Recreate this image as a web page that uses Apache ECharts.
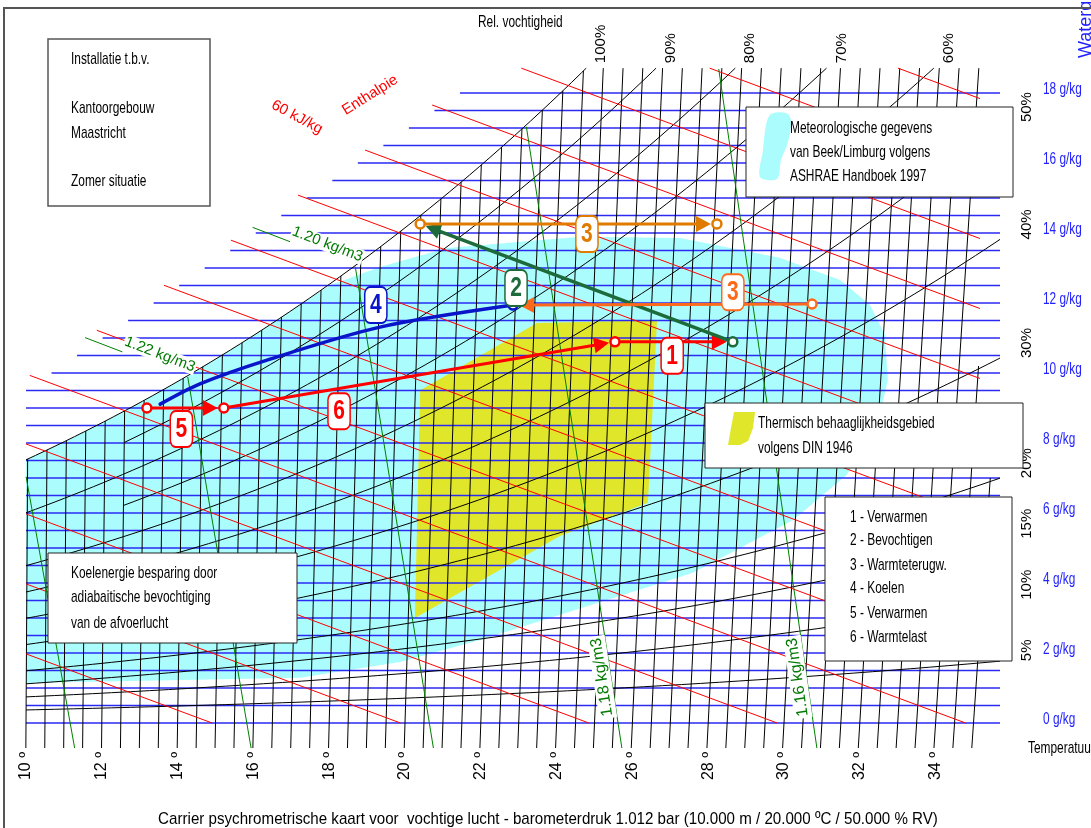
<!DOCTYPE html>
<html lang="nl">
<head>
<meta charset="utf-8">
<title>Carrier psychrometrische kaart</title>
<script src="https://cdn.jsdelivr.net/npm/echarts@6.0.0/dist/echarts.min.js"></script>
<style>
  html, body { margin: 0; padding: 0; background: #fff; }
  #chart { width: 1091px; height: 828px; }
</style>
</head>
<body>
<div id="chart"></div>
<script>
const FONT = '"Liberation Sans", Arial, Helvetica, sans-serif';

// ---- axis ranges: horizontal = skewed dry-bulb temperature (°C), vertical = water content (g/kg)
const T_MIN = 10, T_MAX = 36;
const X_MIN = -5 / 7, X_MAX = 19;
const X_TOP = 18.71;      // upper edge of the grid
const U_RIGHT = 35.70;    // right end of the RH and water-content lines
const U_RED_END = 35.17;  // right end of the enthalpy lines

// ---- tick values
const tempTicks = [10, 12, 14, 16, 18, 20, 22, 24, 26, 28, 30, 32, 34];
const waterTicks = [0, 2, 4, 6, 8, 10, 12, 14, 16, 18];

// ---- grid line families
const isotherms = [10, 10.5, 11, 11.5, 12, 12.5, 13, 13.5, 14, 14.5, 15, 15.5, 16, 16.5, 17, 17.5,
  18, 18.5, 19, 19.5, 20, 20.5, 21, 21.5, 22, 22.5, 23, 23.5, 24, 24.5, 25, 25.5, 26, 26.5, 27, 27.5,
  28, 28.5, 29, 29.5, 30, 30.5, 31, 31.5, 32, 32.5, 33, 33.5, 34, 34.5, 35];
const isothermCap = { 34.5: 10.2, 35: 7.0 };
const waterLines = [0, 0.5, 1, 1.5, 2, 2.5, 3, 3.5, 4, 4.5, 5, 5.5, 6, 6.5, 7, 7.5, 8, 8.5, 9, 9.5,
  10, 10.5, 11, 11.5, 12, 12.5, 13, 13.5, 14, 14.5, 15, 15.5, 16, 16.5, 17, 17.5, 18];
const rhLevels = [100, 90, 80, 70, 60, 50, 40, 30, 20, 15, 10, 5];
const rhStartT = { 90: 12.5, 70: 12.5 };
const enthalpyLines = [15, 20, 25, 30, 35, 40, 45, 50, 55, 60, 65, 70, 75, 80];
const densityLines = [1.24, 1.22, 1.20, 1.18, 1.16];
const densityLeaderLabels = [1.22, 1.20];
const densityAlongLabels = [1.18, 1.16];
const DENSITY_LABEL_X = 1.31;

// start edges of the water-content and enthalpy lines, [u, x]
const blueStartEdge = [[10.0, 9.5], [21.45, 18.0]];
const redStartEdge = [[10.11, 9.94], [22.48, 18.94]];

// ---- chart model
const P_CHART = 1023.5;            // hPa, pressure used for the RH curves
const P_AIR = 101200;              // Pa, 1.012 bar, for the density lines
const SKEW_K = 0.0023, SKEW_T0 = 7.5;

function psat(t) { return 6.112 * Math.exp(17.62 * t / (243.12 + t)); }
function xAt(t, phi) { const pv = phi * psat(t); return 622 * pv / (P_CHART - pv); }
function uAt(t, x) { return t + SKEW_K * (t - SKEW_T0) * x; }
function densityT(rho, x) { const r = x / 1000; return P_AIR * (1 + r) / (287.05 * rho * (1 + 1.608 * r)) - 273.15; }

// ---- climate envelope (Beek/Limburg, ASHRAE 1997) and comfort zone (DIN 1946), [u, x]
const climateEnvelope = [[18.02, 12.51], [19.34, 13.03], [21.11, 13.57], [24.62, 13.89], [27.26, 13.86],
  [29.89, 13.29], [31.48, 12.66], [32.27, 11.94], [32.66, 11.09], [32.74, 9.80], [32.59, 9.09],
  [32.01, 7.80], [31.66, 7.09], [30.24, 5.80], [27.60, 4.29], [24.09, 3.09], [21.98, 2.37],
  [19.87, 1.74], [17.23, 1.29], [10.0, 1.14]];
const CLIMATE_SAT_END = 17.0;
const comfortZone = [[20.40, 9.51], [23.48, 11.43], [26.65, 11.51], [26.41, 6.29], [24.09, 5.34], [20.26, 3.0]];

// ---- air-handling processes, [u, x]
const processPaths = [
  { color: '#ff0000', width: 3, arrow: true, pts: [[13.19, 9.00], [15.22, 9.00]] },
  { color: '#ff0000', width: 3, arrow: true, pts: [[15.22, 9.00], [25.54, 10.89]] },
  { color: '#ff0000', width: 3, arrow: true, pts: [[25.54, 10.89], [28.65, 10.89]] },
  { color: '#1d6b3a', width: 3.5, arrow: true, pts: [[28.65, 10.89], [20.40, 14.26]] },
  { color: '#e07b00', width: 3, arrow: true, pts: [[20.40, 14.26], [28.23, 14.26]] },
  { color: '#ff6a1a', width: 3, arrow: true, pts: [[30.74, 11.97], [22.85, 11.94]] },
  { color: '#0a14c8', width: 3.5, arrow: false, smooth: 0.3,
    pts: [[13.54, 9.11], [14.59, 9.69], [16.36, 10.37], [19.34, 11.31], [22.85, 11.94]] }
];
const stateCircles = [
  [13.19, 9.00, '#ff0000'], [15.22, 9.00, '#ff0000'], [25.54, 10.89, '#ff0000'],
  [28.65, 10.89, '#1d6b3a'], [20.40, 14.26, '#e07b00'], [28.23, 14.26, '#e07b00'],
  [22.85, 11.94, '#0a14c8'], [30.74, 11.97, '#ff6a1a']
];
const processLabels = [
  [14.10, 8.40, '5', '#ff0000'], [18.26, 8.91, '6', '#ff0000'], [19.23, 11.94, '4', '#0a14c8'],
  [22.93, 12.43, '2', '#1d6b3a'], [24.80, 13.97, '3', '#e07b00'], [28.65, 12.31, '3', '#ff6a1a'],
  [27.05, 10.49, '1', '#ff0000']
];
const enthalpyTexts = [[17.15, 17.31, '60 kJ/kg', -28], [19.08, 17.94, 'Enthalpie', 32]];

// ---- line geometry
function rhCurve(rh) {
  const phi = rh / 100;
  let t = rhStartT[rh];
  if (t === undefined) {
    t = T_MIN;
    for (let k = 0; k < 4; k++) t = T_MIN - SKEW_K * (t - SKEW_T0) * xAt(t, phi);
  }
  const pts = [];
  for (; t < 45; t += 0.25) {
    const x = xAt(t, phi), u = uAt(t, x);
    if (x > X_TOP || u > U_RIGHT) {
      const p = pts[pts.length - 1];
      let f = 1;
      if (x > X_TOP) f = Math.min(f, (X_TOP - p[1]) / (x - p[1]));
      if (u > U_RIGHT) f = Math.min(f, (U_RIGHT - p[0]) / (u - p[0]));
      pts.push([p[0] + f * (u - p[0]), p[1] + f * (x - p[1])]);
      break;
    }
    pts.push([u, x]);
  }
  return pts;
}
function isothermLine(t) {
  let top = Math.min(xAt(t, 1), X_TOP);
  if (isothermCap[t] !== undefined) top = Math.min(top, isothermCap[t]);
  return [[uAt(t, X_MIN), X_MIN], [uAt(t, top), top]];
}
function waterLine(x) {
  const [[u0, x0], [u1, x1]] = blueStartEdge;
  const us = Math.max(T_MIN, u0 + (x - x0) * (u1 - u0) / (x1 - x0));
  return [[us, x], [U_RIGHT, x]];
}
function enthalpyLine(h) {
  const [[ua, xa], [ub, xb]] = redStartEdge;
  const m = (ub - ua) / (xb - xa);
  let xs = (h / 1.006 - ua + m * xa) / (m + 2.501 / 1.006);
  let us = (h - 2.501 * xs) / 1.006;
  if (us < T_MIN) { us = T_MIN; xs = (h - 1.006 * T_MIN) / 2.501; }
  if (xs > X_TOP) { xs = X_TOP; us = (h - 2.501 * X_TOP) / 1.006; }
  let ue = h / 1.006, xe = 0;
  if (ue > U_RED_END) { ue = U_RED_END; xe = (h - 1.006 * U_RED_END) / 2.501; }
  return [[us, xs], [ue, xe]];
}
function densityLine(rho) {
  const pts = [];
  for (let x = X_MIN; x <= X_TOP; x += 0.05) {
    const t = densityT(rho, x), u = uAt(t, x);
    if (x > xAt(t, 1) || u < T_MIN) break;
    pts.push([u, x]);
  }
  return [pts[0], pts[pts.length - 1]];
}

const rhCurves = rhLevels.map(rh => ({ rh, pts: rhCurve(rh) }));
const densityGeom = densityLines.map(rho => ({ rho, pts: densityLine(rho) }));

// ---- helpers for custom series
function txt(x, y, text, o) {
  o = o || {};
  return {
    type: 'text', x, y, rotation: (o.rot || 0) * Math.PI / 180, scaleX: o.sx || 1,
    style: {
      text, fill: o.color || '#000', fontFamily: FONT, fontSize: o.size || 15,
      fontWeight: o.weight || 'normal', align: o.align || 'left', verticalAlign: o.va || 'middle',
      backgroundColor: o.bg, borderColor: o.border, borderWidth: o.borderWidth, borderRadius: o.radius,
      padding: o.padding, lineHeight: o.lineHeight
    }
  };
}
function customSeries(name, items, render, z) {
  return {
    type: 'custom', name, coordinateSystem: 'cartesian2d', z, silent: true, animation: false, clip: false,
    data: items.map((it, i) => [T_MIN, 0, i]),
    renderItem: (params, api) => render(items[api.value(2)], api)
  };
}
function lineFamily(name, lines, color, width, z) {
  return customSeries(name, lines, (pts, api) => ({
    type: 'polyline', shape: { points: pts.map(p => api.coord(p)) },
    style: { stroke: color, lineWidth: width, fill: null }
  }), z);
}

const ARROW_GAP = 6, ARROW_LEN = 15, ARROW_HALF = 8;
function renderProcess(p, api) {
  const pts = p.pts.map(q => api.coord(q));
  const children = [];
  if (p.arrow) {
    const a = pts[pts.length - 2], b = pts[pts.length - 1];
    const dx = b[0] - a[0], dy = b[1] - a[1], len = Math.hypot(dx, dy);
    const ux = dx / len, uy = dy / len;
    const tip = [b[0] - ux * ARROW_GAP, b[1] - uy * ARROW_GAP];
    const base = [tip[0] - ux * ARROW_LEN, tip[1] - uy * ARROW_LEN];
    pts[pts.length - 1] = base;
    children.push({
      type: 'polygon',
      shape: { points: [tip, [base[0] - uy * ARROW_HALF, base[1] + ux * ARROW_HALF], [base[0] + uy * ARROW_HALF, base[1] - ux * ARROW_HALF]] },
      style: { fill: p.color }
    });
  }
  children.unshift({
    type: 'polyline', shape: { points: pts, smooth: p.smooth || 0 },
    style: { stroke: p.color, lineWidth: p.width, fill: null, lineCap: 'round' }
  });
  return { type: 'group', children };
}

const series = [];

// climate envelope and comfort zone
const climatePolygon = rhCurves[0].pts.filter(p => p[0] <= CLIMATE_SAT_END).concat(climateEnvelope);
series.push(customSeries('klimaat', [climatePolygon], (pts, api) => ({
  type: 'polygon', shape: { points: pts.map(p => api.coord(p)) }, style: { fill: '#abfdfd' }
}), 1));
series.push(customSeries('behaaglijkheid', [comfortZone], (pts, api) => ({
  type: 'polygon', shape: { points: pts.map(p => api.coord(p)) }, style: { fill: '#e0e62a' }
}), 2));

// grid lines
series.push(lineFamily('watergehalte', waterLines.map(waterLine), '#2a2af2', 1.6, 3));
series.push(lineFamily('isothermen', isotherms.map(isothermLine), '#000', 1, 4));
series.push(lineFamily('rv', rhCurves.map(c => c.pts), '#000', 1, 4));
series.push(lineFamily('enthalpie', enthalpyLines.map(enthalpyLine), '#ff0000', 1, 5));
series.push(lineFamily('dichtheid', densityGeom.map(d => d.pts), '#008000', 1, 5));

// RH labels at the line ends
series.push(customSeries('rv-labels', rhCurves, (c, api) => {
  const e = api.coord(c.pts[c.pts.length - 1]);
  const atTop = Math.abs(c.pts[c.pts.length - 1][1] - X_TOP) < 1e-6;
  return atTop ? txt(e[0] + 15, e[1] - 5, c.rh + '%', { rot: 90 })
               : txt(e[0] + 27, e[1], c.rh + '%', { rot: 90 });
}, 6));

// water content labels
series.push(customSeries('g-labels', waterTicks, (v, api) => {
  const p = api.coord([U_RIGHT, v]);
  return txt(p[0] + 43, p[1] - 3, v + ' g/kg', { color: '#2222ff', size: 16, sx: 0.74 });
}, 6));

// density labels
const LEADER_ANGLE = 21;
series.push(customSeries('dichtheid-labels', densityGeom, (d, api) => {
  const label = d.rho.toFixed(2) + ' kg/m3';
  if (densityLeaderLabels.includes(d.rho)) {
    const a = api.coord(d.pts[1]);
    const r = LEADER_ANGLE * Math.PI / 180;
    const dx = Math.cos(r), dy = Math.sin(r);      // along the leader, pointing down-right
    const nx = dy, ny = -dx;                          // normal pointing up-right
    return {
      type: 'group', children: [
        { type: 'line', shape: { x1: a[0] - 70 * dx, y1: a[1] - 70 * dy, x2: a[0] - 110 * dx, y2: a[1] - 110 * dy },
          style: { stroke: '#008000', lineWidth: 1 } },
        txt(a[0] + 4 * dx + 11 * nx, a[1] + 4 * dy + 11 * ny, label,
          { rot: -LEADER_ANGLE, align: 'right', color: '#007a00', bg: '#fff', padding: [0, 1] })
      ]
    };
  }
  if (densityAlongLabels.includes(d.rho)) {
    const b = api.coord(d.pts[0]), tp = api.coord(d.pts[1]);
    const f = (DENSITY_LABEL_X - d.pts[0][1]) / (d.pts[1][1] - d.pts[0][1]);
    const c = [b[0] + f * (tp[0] - b[0]) - 9, b[1] + f * (tp[1] - b[1])];
    const rot = Math.atan2(-(tp[1] - b[1]), tp[0] - b[0]) * 180 / Math.PI;
    return txt(c[0], c[1], label, { rot, align: 'center', color: '#007a00', bg: '#fff', padding: [1, 2], size: 16 });
  }
  return { type: 'group', children: [] };
}, 6));

// enthalpy captions
series.push(customSeries('enthalpie-labels', enthalpyTexts, (e, api) => {
  const p = api.coord([e[0], e[1]]);
  return txt(p[0], p[1], e[2], { rot: e[3], align: 'center', color: '#ff0000' });
}, 6));

// processes
series.push(customSeries('processen', processPaths, renderProcess, 20));
series.push(customSeries('toestanden', stateCircles, (c, api) => {
  const p = api.coord([c[0], c[1]]);
  return { type: 'circle', shape: { cx: p[0], cy: p[1], r: 4.5 }, style: { fill: '#fff', stroke: c[2], lineWidth: 2.5 } };
}, 21));
series.push(customSeries('proces-nummers', processLabels, (l, api) => {
  const p = api.coord([l[0], l[1]]);
  return txt(p[0], p[1], l[2], {
    align: 'center', color: l[3], size: 28, weight: 'bold', sx: 0.75, lineHeight: 28,
    bg: '#fff', border: l[3], borderWidth: 2, radius: 6, padding: [3, 6, 3, 6]
  });
}, 22));

// ---- annotation boxes and captions (page layout)
const BOX_FONT = 17, BOX_SX = 0.7;
function boxText(x, y, text, extra) {
  return Object.assign({ type: 'text', x, y, scaleX: BOX_SX, z: 31,
    style: { text, fill: '#000', fontFamily: FONT, fontSize: BOX_FONT, verticalAlign: 'middle', align: 'left' } }, extra || {});
}
function box(x0, y0, x1, y1, stroke, lw) {
  return { type: 'rect', z: 30, shape: { x: x0, y: y0, width: x1 - x0, height: y1 - y0 },
    style: { fill: '#fff', stroke: stroke || '#222', lineWidth: lw || 1 } };
}
const TITLE = 'Carrier psychrometrische kaart voor  vochtige lucht - barometerdruk 1.012 bar (10.000 m / 20.000 ºC / 50.000 % RV)';
const graphic = [
  { type: 'rect', z: 40, shape: { x: 4, y: 8, width: 1100, height: 840 }, style: { fill: null, stroke: '#555', lineWidth: 2 } },
  box(48, 39, 210, 206, '#555', 1.5),
  boxText(71, 59, 'Installatie t.b.v.'),
  boxText(71, 108, 'Kantoorgebouw'),
  boxText(71, 133, 'Maastricht'),
  boxText(71, 181, 'Zomer situatie'),
  box(746, 107, 1013, 197),
  { type: 'polygon', z: 31, shape: { points: [[771, 114], [786, 113], [791, 120], [788, 142], [781, 160], [777, 179], [760, 177], [763, 150], [766, 125]], smooth: 0.3 },
    style: { fill: '#abfdfd' } },
  boxText(790, 128, 'Meteorologische gegevens'),
  boxText(790, 152, 'van Beek/Limburg volgens'),
  boxText(790, 176, 'ASHRAE Handboek 1997'),
  box(705, 403, 1023, 468),
  { type: 'polygon', z: 31, shape: { points: [[734, 412], [755, 412], [753, 428], [748, 441], [740, 445], [728, 445], [731, 428]] },
    style: { fill: '#e0e62a' } },
  boxText(758, 423, 'Thermisch behaaglijkheidsgebied'),
  boxText(758, 448, 'volgens DIN 1946'),
  box(825, 497, 1012, 661),
  boxText(850, 517, '1 - Verwarmen'),
  boxText(850, 540, '2 - Bevochtigen'),
  boxText(850, 565, '3 - Warmteterugw.'),
  boxText(850, 588, '4 - Koelen'),
  boxText(850, 613, '5 - Verwarmen'),
  boxText(850, 637, '6 - Warmtelast'),
  box(48, 553, 297, 643),
  boxText(71, 573, 'Koelenergie besparing door'),
  boxText(71, 597, 'adiabaitische bevochtiging'),
  boxText(71, 623, 'van de afvoerlucht'),
  boxText(478, 22, 'Rel. vochtigheid'),
  boxText(1028, 748, 'Temperatuur'),
  { type: 'text', x: 1086, y: 58, rotation: Math.PI / 2, z: 31,
    style: { text: 'Watergehalte', fill: '#2222ff', fontFamily: FONT, fontSize: 18, align: 'left', verticalAlign: 'middle' } },
  { type: 'text', x: 548, y: 819, scaleX: 0.89, z: 31,
    style: { text: TITLE, fill: '#000', fontFamily: FONT, fontSize: BOX_FONT, verticalAlign: 'middle', align: 'center' } }
];

const chart = echarts.init(document.getElementById('chart'), null, { renderer: 'canvas' });
chart.setOption({
  animation: false,
  backgroundColor: '#fff',
  textStyle: { fontFamily: FONT },
  grid: { left: 26, right: 79.6, top: 58, bottom: 80, containLabel: false },
  xAxis: {
    type: 'value', min: T_MIN, max: T_MAX,
    axisLine: { show: false }, axisTick: { show: false }, splitLine: { show: false },
    axisLabel: { show: true, rotate: 90, margin: 4, fontSize: 16, color: '#000', fontFamily: FONT,
      customValues: tempTicks, formatter: v => v + ' º' }
  },
  yAxis: { type: 'value', min: X_MIN, max: X_MAX, show: false },
  graphic,
  series
});
</script>
</body>
</html>
